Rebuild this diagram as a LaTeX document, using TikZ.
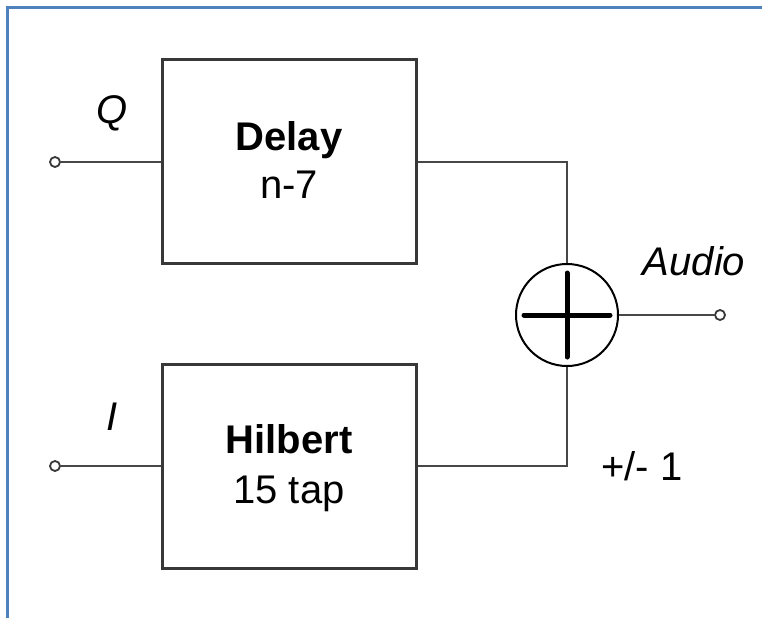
\documentclass[tikz,border=0pt]{standalone}
\usepackage{fontspec}
\setmainfont{Liberation Sans}
\begin{document}
\begin{tikzpicture}[x=1pt,y=-1pt,
  blk/.style={draw=black!78,line width=3pt,minimum width=254pt,minimum height=204pt,inner sep=0pt},
  wire/.style={draw=black!72,line width=2.8pt},
  port/.style={circle,draw=black!78,line width=1.8pt,fill=white,minimum size=10pt,inner sep=0pt},
  lbl/.style={font=\fontsize{40}{48}\selectfont,anchor=base,inner sep=0pt}]
\useasboundingbox (0,0) rectangle (762,618);
\fill[white] (0,0) rectangle (762,618);
\draw[color={rgb,255:red,79;green,129;blue,189},line width=3pt] (7,618) -- (7,8) -- (762,8);
% blocks
\node[blk] (delay) at (289,161.5) {};
\node[blk] (hilb) at (289,466.5) {};
\node[lbl] (dt) at (289,150) {\bfseries Delay};
\node[lbl] (dn) at (289,198) {n-7};
\node[lbl] (ht) at (289,453) {\bfseries Hilbert};
\node[lbl] (hn) at (289,503) {15 tap};
% summer
\node[circle,draw=black,line width=2pt,minimum size=102pt,inner sep=0pt] (sum) at (567,315) {};
\draw[line width=5pt,line cap=round] ([xshift=-43pt]sum.center) -- ([xshift=43pt]sum.center);
\draw[line width=5pt,line cap=round] ([yshift=-42pt]sum.center) -- ([yshift=42pt]sum.center);
% ports
\node[port] (q) at (55,162) {};
\node[port] (i) at (55,466) {};
\node[port] (out) at (720,315) {};
\coordinate (c1) at (567,162);
\coordinate (c2) at (567,466);
\draw[wire] (q) -- (q -| delay.west);
\draw[wire] (i) -- (i -| hilb.west);
\draw[wire] (c1 -| delay.east) -- (c1) -- (sum.north);
\draw[wire] (c2 -| hilb.east) -- (c2) -- (sum.south);
\draw[wire,line width=2pt] (sum.east) -- (out);
% labels
\node[lbl] (ql) at (112,123) {\itshape Q};
\node[lbl] (il) at (112,430) {\itshape I};
\node[lbl] (al) at (694,275) {\itshape Audio};
\node[lbl] (pm) at (642,480) {+/- 1};
\end{tikzpicture}
\end{document}
